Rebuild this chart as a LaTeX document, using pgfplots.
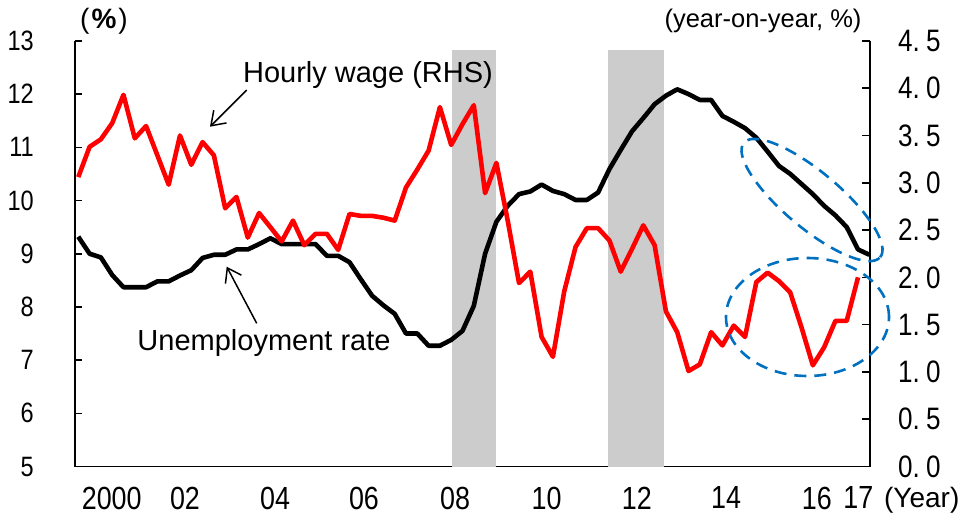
\documentclass[border=0pt]{standalone}
\usepackage{pgfplots}
\pgfplotsset{compat=1.18}
\usepackage{pgfplotstable}
\usepackage{fontspec}
\setmainfont{Liberation Sans}
\newfontfamily\tickfont[FakeStretch=0.84]{Liberation Sans}
\usetikzlibrary{arrows.meta}
\definecolor{wagered}{RGB}{255,0,0}
\definecolor{shadegray}{RGB}{204,204,204}
\definecolor{ellblue}{RGB}{0,112,192}

% quarterly index k (k=0 ~ 1999Q4)
\pgfplotstableread{
k u
0 9.32
1 9.00
2 8.93
3 8.60
4 8.37
5 8.37
6 8.37
7 8.48
8 8.48
9 8.59
10 8.69
11 8.92
12 8.98
13 8.98
14 9.08
15 9.08
16 9.18
17 9.29
18 9.18
19 9.18
20 9.18
21 9.18
22 8.96
23 8.96
24 8.84
25 8.52
26 8.21
27 8.03
28 7.87
29 7.50
30 7.50
31 7.27
32 7.27
33 7.38
34 7.55
35 8.02
36 9.00
37 9.60
38 9.90
39 10.12
40 10.17
41 10.30
42 10.18
43 10.12
44 10.01
45 10.01
46 10.15
47 10.59
48 10.95
49 11.30
50 11.55
51 11.81
52 11.97
53 12.09
54 12.00
55 11.89
56 11.89
57 11.59
58 11.48
59 11.36
60 11.18
61 10.92
62 10.65
63 10.50
64 10.31
65 10.12
66 9.90
67 9.72
68 9.50
69 9.08
70 8.98
}\unemp

\pgfplotstableread{
k w
0 3.06
1 3.38
2 3.46
3 3.63
4 3.93
5 3.47
6 3.60
7 3.29
8 2.98
9 3.50
10 3.19
11 3.43
12 3.29
13 2.73
14 2.85
15 2.42
16 2.68
17 2.53
18 2.38
19 2.60
20 2.34
21 2.46
22 2.46
23 2.29
24 2.67
25 2.65
26 2.65
27 2.63
28 2.60
29 2.95
30 3.14
31 3.34
32 3.80
33 3.40
34 3.62
35 3.82
36 2.89
37 3.21
38 2.60
39 1.94
40 2.06
41 1.37
42 1.16
43 1.85
44 2.32
45 2.52
46 2.52
47 2.39
48 2.06
49 2.30
50 2.55
51 2.34
52 1.64
53 1.42
54 1.01
55 1.08
56 1.42
57 1.28
58 1.49
59 1.37
60 1.95
61 2.05
62 1.96
63 1.84
64 1.47
65 1.07
66 1.26
67 1.54
68 1.54
69 2.00
}\wage

\begin{document}
\begin{tikzpicture}
\begin{axis}[
  at={(0pt,0pt)}, anchor=south west,
  scale only axis, width=795pt, height=425.6pt,
  xmin=-0.29, xmax=70.06, ymin=5, ymax=13,
  clip=false,
  axis x line*=bottom, axis y line*=left,
  x axis line style={-, line width=1.6pt},
  y axis line style={-, line width=1.6pt},
  xtick={2.96,9.44,17.41,25.28,33.34,41.45,49.42,57.32,65.35,69.03},
  xticklabels={2000,02,04,06,08,10,12,14,16,17},
  xtick style={draw=none},
  ytick={5,6,7,8,9,10,11,12,13},
  yticklabels={5,6,7,8,9,10,11,12,13},
  tick align=inside, major tick length=7pt,
  ytick style={line width=1.6pt, black},
  yticklabel style={anchor=east, inner sep=0pt, xshift=-41pt, font=\tickfont\fontsize{28pt}{30pt}\selectfont},
  xticklabel style={anchor=north, inner sep=0pt, yshift=-20pt, font=\tickfont\fontsize{32pt}{34pt}\selectfont},
]
\addplot[fill=shadegray, draw=none] coordinates {(33.04,5) (33.04,12.83) (36.96,12.83) (36.96,5)} -- cycle;
\addplot[fill=shadegray, draw=none] coordinates {(46.88,5) (46.88,12.83) (51.83,12.83) (51.83,5)} -- cycle;
\addplot[black, line width=4.6pt, mark=none, line join=round] table[x=k, y=u] {\unemp};
\end{axis}
\begin{axis}[
  at={(0pt,0pt)}, anchor=south west,
  scale only axis, width=795pt, height=425.6pt,
  xmin=-0.29, xmax=70.06, ymin=0, ymax=4.5,
  clip=false,
  axis x line=none, axis y line*=right,
  y axis line style={-, line width=1.6pt},
  ytick={0,0.5,1,1.5,2,2.5,3,3.5,4,4.5},
  yticklabels={0.\hspace{0.2em}0,0.\hspace{0.2em}5,1.\hspace{0.2em}0,1.\hspace{0.2em}5,2.\hspace{0.2em}0,2.\hspace{0.2em}5,3.\hspace{0.2em}0,3.\hspace{0.2em}5,4.\hspace{0.2em}0,4.\hspace{0.2em}5},
  tick align=inside, major tick length=8pt,
  ytick style={line width=1.6pt, black},
  yticklabel style={anchor=west, inner sep=0pt, xshift=28pt, font=\tickfont\fontsize{31pt}{33pt}\selectfont},
]
\addplot[wagered, line width=4.6pt, mark=none, line join=round] table[x=k, y=w] {\wage};
\end{axis}

% dashed ellipses
\begin{scope}[shift={(737pt,266.5pt)}, rotate=-40]
\draw[ellblue, line width=2.6pt, dash pattern=on 12pt off 8pt] (0,0) ellipse [x radius=89pt, y radius=28pt];
\end{scope}
\draw[ellblue, line width=2.6pt, dash pattern=on 12pt off 8pt] (732.5pt,149.5pt) ellipse [x radius=81.5pt, y radius=59pt];

% annotations
\node[anchor=base, inner sep=0pt, font=\fontsize{29pt}{31pt}\selectfont] at (293pt,384pt) {Hourly wage (RHS)};
\draw[line width=1.5pt, -{Straight Barb[length=13pt,width=18pt]}] (171.7pt,376.5pt) -- (135pt,339.8pt);
\node[anchor=base, inner sep=0pt, font=\fontsize{29pt}{31pt}\selectfont] at (189pt,115.7pt) {Unemployment rate};
\draw[line width=1.5pt, -{Straight Barb[length=13pt,width=18pt]}] (181.7pt,143.2pt) -- (151.7pt,199.8pt);

\node[anchor=center, inner sep=0pt, font=\fontsize{28pt}{30pt}\selectfont] at (29pt,445.5pt) {(\hspace{2pt}\textbf{\%}\hspace{2pt})};
\node[anchor=center, inner sep=0pt, font=\fontsize{25.5pt}{28pt}\selectfont] at (688pt,445.5pt) {(year-on-year, \%)};
\node[anchor=center, inner sep=0pt, font=\fontsize{28pt}{30pt}\selectfont] at (846.7pt,-33.5pt) {(Year)};

\pgfresetboundingbox
\path[use as bounding box] (-75pt,-48.5pt) rectangle (891pt,466.5pt);
\end{tikzpicture}
\end{document}
